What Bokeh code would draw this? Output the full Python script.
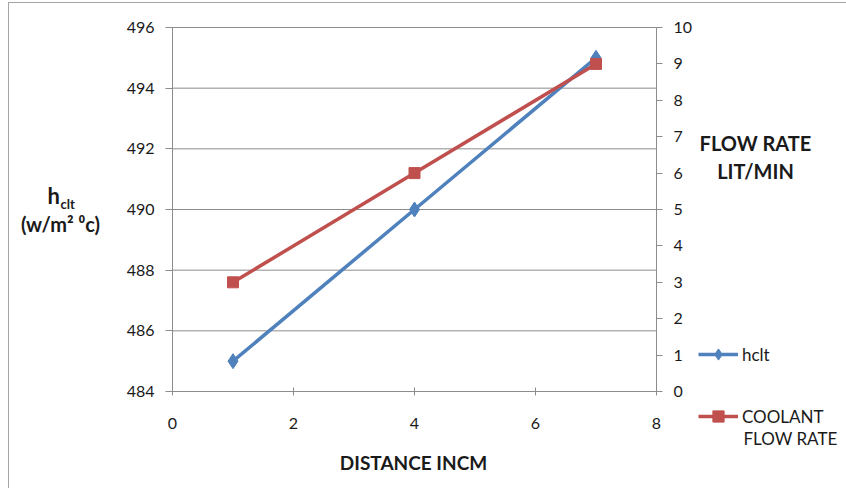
from bokeh.plotting import figure
from bokeh.models import LinearAxis, Range1d, FixedTicker, Label, Legend, LegendItem
from bokeh.embed import file_html
from bokeh.resources import INLINE

# data
distance = [1, 4, 7]
hclt = [485, 490, 495]
coolant_flow = [3, 6, 9]

x_ticks = [0, 2, 4, 6, 8]
left_ticks = [484, 486, 488, 490, 492, 494, 496]
right_ticks = list(range(0, 11))

X_MIN, X_MAX = 0, 8
L_MIN, L_MAX = 484, 496
R_MIN, R_MAX = 0, 10

FONT = "Lato"
AXIS_GRAY = "#8c8c8c"
TEXT = "#1a1a1a"
BLUE = "#4f81bd"
RED = "#c0504d"

# canvas geometry (pixels inside the chart border)
W, H = 838, 486
OX, OY = 9, 3                      # canvas origin on the page
PL, PR = 172 - OX, 656 - OX        # plot area left / right
PT, PB = 27 - OY, 391 - OY         # plot area top / bottom

def span_range(lo, hi, p_lo, p_hi, total):
    scale = (p_hi - p_lo) / (hi - lo)
    return Range1d(lo - p_lo / scale, hi + (total - p_hi) / scale)

x_range = span_range(X_MIN, X_MAX, PL, PR, W)
y_range = span_range(L_MIN, L_MAX, H - PB, H - PT, H)
flow_range = span_range(R_MIN, R_MAX, H - PB, H - PT, H)

p = figure(width=W, height=H, output_backend="svg", toolbar_location=None,
           x_range=x_range, y_range=y_range,
           min_border=0, min_border_left=0, min_border_right=0,
           min_border_top=0, min_border_bottom=0,
           x_axis_location=None, y_axis_location=None)
p.margin = (2, 0, 0, 8)
p.styles = {"border-top": "1px solid #a6a6a6", "border-left": "1px solid #a6a6a6"}
p.outline_line_color = None
p.grid.visible = False
p.extra_y_ranges = {"flow": flow_range}

def style_axis(ax):
    ax.axis_line_color = AXIS_GRAY
    ax.major_tick_line_color = AXIS_GRAY
    ax.minor_tick_line_color = None
    ax.major_label_text_font = FONT
    ax.major_label_text_font_size = "16px"
    ax.major_label_text_color = TEXT

# horizontal gridlines at the left-axis ticks
p.segment(x0=X_MIN, x1=X_MAX, y0=left_ticks, y1=left_ticks,
          line_color=AXIS_GRAY, line_width=1)

bottom = LinearAxis(ticker=FixedTicker(ticks=x_ticks), fixed_location=L_MIN,
                    bounds=(X_MIN, X_MAX))
style_axis(bottom)
bottom.major_tick_in = 4
bottom.major_tick_out = 4
bottom.major_label_standoff = 22
p.add_layout(bottom, "below")

left = LinearAxis(ticker=FixedTicker(ticks=left_ticks), fixed_location=X_MIN,
                  bounds=(L_MIN, L_MAX))
style_axis(left)
left.major_tick_in = 0
left.major_tick_out = 7
left.major_label_standoff = 11
p.add_layout(left, "left")

right = LinearAxis(y_range_name="flow", ticker=FixedTicker(ticks=right_ticks),
                   fixed_location=X_MAX, bounds=(R_MIN, R_MAX))
style_axis(right)
right.major_tick_in = 0
right.major_tick_out = 6
right.major_label_standoff = 11
p.add_layout(right, "right")

# series
l1 = p.line(distance, hclt, line_color=BLUE, line_width=3.5)
m1 = p.scatter(distance, hclt, marker="diamond", size=15, fill_color=BLUE, line_color=BLUE)
l2 = p.line(distance, coolant_flow, y_range_name="flow", line_color=RED, line_width=3.5)
m2 = p.scatter(distance, coolant_flow, y_range_name="flow", marker="square", size=11,
               fill_color=RED, line_color=RED)

# legend entries
GLYPH_H = 28

def make_legend(label, renderers, page_x, page_center):
    lg = Legend(items=[LegendItem(label=label, renderers=renderers)],
                location=(page_x - OX, OY + H - (page_center + GLYPH_H / 2)),
                glyph_width=40, glyph_height=GLYPH_H, label_standoff=4, label_height=20,
                padding=0, margin=0, spacing=0,
                border_line_color=None, background_fill_alpha=0,
                label_text_font=FONT, label_text_font_size="17px",
                label_text_color=TEXT)
    p.add_layout(lg)

make_legend("hclt", [l1, m1], 698, 354)
make_legend("COOLANT", [l2, m2], 698, 416)

def page_to_data(page_x, page_y):
    fx, fy = page_x - OX, page_y - OY
    x = x_range.start + fx * (x_range.end - x_range.start) / W
    y = y_range.end - fy * (y_range.end - y_range.start) / H
    return x, y

def text(t, page_x, page_y, size, align="center", bold=True):
    x, y = page_to_data(page_x, page_y)
    p.add_layout(Label(x=x, y=y, text=t, text_font=FONT, text_font_size=size,
                       text_font_style="bold" if bold else "normal",
                       text_align=align, text_baseline="middle", text_color=TEXT))

# second line of the coolant legend entry
text("FLOW RATE", 743, 438, "17px", align="left", bold=False)

# axis titles
text("DISTANCE INCM", 413, 462, "19px")
text("FLOW RATE", 755, 142, "20px")
text("LIT/MIN", 755, 170, "20px")
text("h", 47, 195, "22px", align="left")
text("clt", 60, 203, "13px", align="left")
text("(w/m\u00b2 \u2070c)", 60, 223, "20px")

open("out.html", "w").write(file_html(p, INLINE))
